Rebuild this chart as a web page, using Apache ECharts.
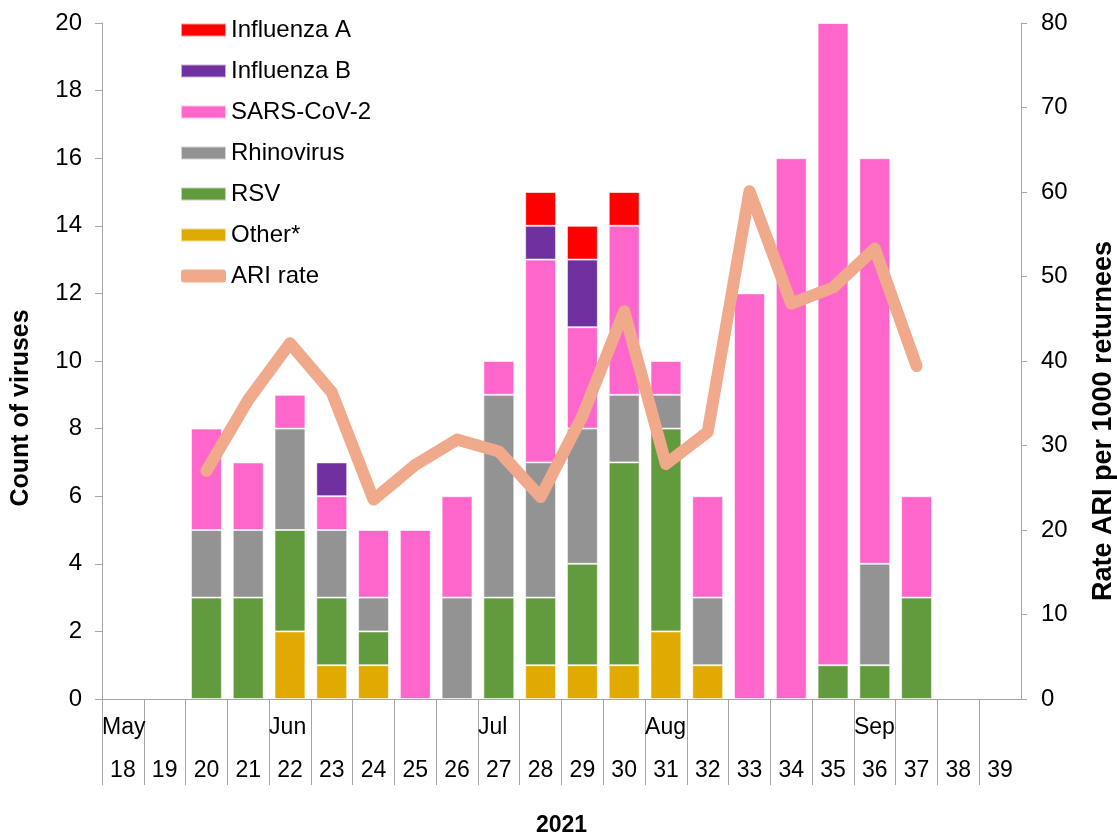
<!DOCTYPE html>
<html>
<head>
<meta charset="utf-8">
<script src="https://cdn.jsdelivr.net/npm/echarts@6/dist/echarts.min.js"></script>
<style>
  html, body { margin: 0; padding: 0; background: #fff; }
  #chart { width: 1117px; height: 836px; }
</style>
</head>
<body>
<div id="chart"></div>
<script>
// weeks of 2021
const weeks = ["18", "19", "20", "21", "22", "23", "24", "25", "26", "27", "28",
  "29", "30", "31", "32", "33", "34", "35", "36", "37", "38", "39"];
// month label -> index of the week where it starts
const monthStarts = { 0: "May", 4: "Jun", 9: "Jul", 13: "Aug", 18: "Sep" };

// counts per week (stack order bottom -> top)
const other = [0, 0, 0, 0, 2, 1, 1, 0, 0, 0, 1, 1, 1, 2, 1, 0, 0, 0, 0, 0, 0, 0];
const rsv = [0, 0, 3, 3, 3, 2, 1, 0, 0, 3, 2, 3, 6, 6, 0, 0, 0, 1, 1, 3, 0, 0];
const rhino = [0, 0, 2, 2, 3, 2, 1, 0, 3, 6, 4, 4, 2, 1, 2, 0, 0, 0, 3, 0, 0, 0];
const sars = [0, 0, 3, 2, 1, 1, 2, 5, 3, 1, 6, 3, 5, 1, 3, 12, 16, 19, 12, 3, 0, 0];
const fluB = [0, 0, 0, 0, 0, 1, 0, 0, 0, 0, 1, 2, 0, 0, 0, 0, 0, 0, 0, 0, 0, 0];
const fluA = [0, 0, 0, 0, 0, 0, 0, 0, 0, 0, 1, 1, 1, 0, 0, 0, 0, 0, 0, 0, 0, 0];
// ARI rate per 1000 returnees
const ariRate = [null, null, 27.0, 35.4, 42.1, 36.3, 23.6, 27.7, 30.7, 29.3, 23.9,
  33.5, 45.9, 27.8, 31.6, 60.1, 46.8, 48.7, 53.3, 39.4, null, null];

const chart = echarts.init(document.getElementById("chart"));
const font = "'Liberation Sans', Arial, sans-serif";
const axisGray = "#a6a6a6";

function barSeries(name, data, color) {
  return {
    name: name,
    type: "bar",
    stack: "viruses",
    barCategoryGap: "26%",
    itemStyle: { color: color, borderColor: "rgba(255,255,255,0.6)", borderWidth: 1 },
    data: data.map(v => (v === 0 ? null : v)),
  };
}

const option = {
  animation: false,
  textStyle: { fontFamily: font, color: "#000" },
  grid: { left: 102, right: 96, top: 23, bottom: 137, outerBoundsMode: "none" },
  legend: {
    orient: "vertical",
    left: 180,
    top: 18,
    padding: 0,
    itemWidth: 45,
    itemHeight: 13,
    itemGap: 17,
    textStyle: { fontFamily: font, fontSize: 24, color: "#000", padding: [0, 0, 0, 0] },
    data: [
      { name: "Influenza A", icon: "rect" },
      { name: "Influenza B", icon: "rect" },
      { name: "SARS-CoV-2", icon: "rect" },
      { name: "Rhinovirus", icon: "rect" },
      { name: "RSV", icon: "rect" },
      { name: "Other*", icon: "rect" },
      { name: "ARI rate", icon: "roundRect", itemStyle: { borderWidth: 0 } },
    ],
  },
  xAxis: [
    {
      type: "category",
      data: weeks,
      position: "bottom",
      name: "2021",
      nameLocation: "middle",
      nameGap: 115,
      nameTextStyle: { fontFamily: font, fontSize: 23, fontWeight: "bold", color: "#000" },
      axisLine: { show: false },
      axisTick: { show: false },
      axisLabel: { fontFamily: font, fontSize: 23, color: "#000", margin: 60, interval: 0 },
    },
    {
      type: "value",
      position: "bottom",
      min: 0,
      max: weeks.length,
      interval: 1,
      splitLine: { show: false },
      axisLine: { show: true, lineStyle: { color: axisGray } },
      axisTick: {
        show: true,
        length: 86,
        lineStyle: { color: axisGray },
        customValues: weeks.map((w, i) => i),
      },
      axisLabel: {
        fontFamily: font,
        fontSize: 23,
        color: "#000",
        margin: 17,
        align: "left",
        customValues: Object.keys(monthStarts).map(Number),
        formatter: v => monthStarts[v] || "",
      },
    },
  ],
  yAxis: [
    {
      type: "value",
      min: 0,
      max: 20,
      interval: 2,
      name: "Count of viruses",
      nameLocation: "middle",
      nameGap: 68,
      nameTextStyle: {
        fontFamily: font, fontSize: 25, fontWeight: "bold", color: "#000",
        padding: [0, 94, 0, 0],
      },
      splitLine: { show: false },
      axisLine: { show: true, lineStyle: { color: axisGray } },
      axisTick: { show: true, length: 7, lineStyle: { color: axisGray } },
      axisLabel: { fontFamily: font, fontSize: 24, color: "#000", margin: 20 },
    },
    {
      type: "value",
      min: 0,
      max: 80,
      interval: 10,
      name: "Rate ARI per 1000 returnees",
      nameLocation: "middle",
      nameGap: 69,
      nameTextStyle: {
        fontFamily: font, fontSize: 27, fontWeight: "bold", color: "#000",
        padding: [0, 120, 0, 0],
      },
      splitLine: { show: false },
      axisLine: { show: true, lineStyle: { color: axisGray } },
      axisTick: { show: true, length: 6, lineStyle: { color: axisGray } },
      axisLabel: { fontFamily: font, fontSize: 24, color: "#000", margin: 20 },
    },
  ],
  series: [
    barSeries("Other*", other, "#e1aa00"),
    barSeries("RSV", rsv, "#629a3e"),
    barSeries("Rhinovirus", rhino, "#939393"),
    barSeries("SARS-CoV-2", sars, "#ff66cc"),
    barSeries("Influenza B", fluB, "#7030a0"),
    barSeries("Influenza A", fluA, "#ff0000"),
    {
      name: "ARI rate",
      type: "line",
      yAxisIndex: 1,
      data: ariRate,
      showSymbol: false,
      symbol: "none",
      z: 5,
      itemStyle: { color: "#f0a98a" },
      lineStyle: { color: "#f0a98a", width: 12, cap: "round", join: "round" },
    },
  ],
};

chart.setOption(option);
</script>
</body>
</html>
